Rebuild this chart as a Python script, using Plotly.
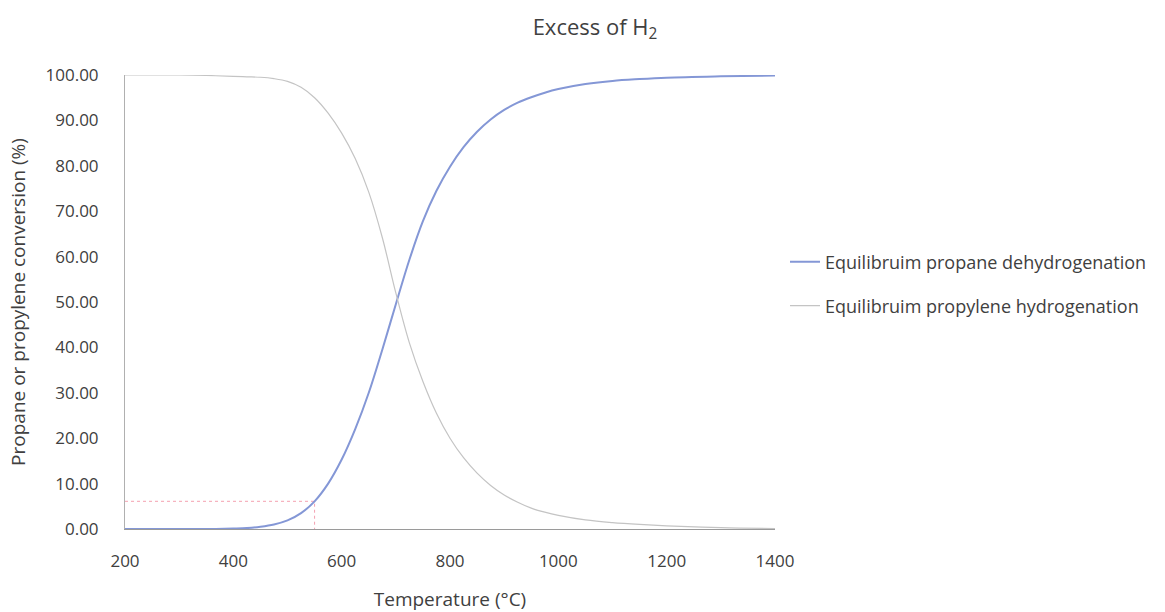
import plotly.graph_objects as go

# Equilibrium conversion vs temperature (°C), excess H2
temp_dehydro = [200, 250, 300, 350, 400, 425, 450, 475, 500, 525, 550, 575, 600, 625,
                650, 675, 700, 725, 750, 775, 800, 825, 850, 875, 900, 925, 950, 975,
                1000, 1050, 1100, 1150, 1200, 1300, 1400]
conv_dehydro = [0.0, 0.0, 0.0, 0.0, 0.1, 0.2, 0.5, 1.0, 1.9, 3.5, 6.1, 10.0, 15.3, 22.0,
                30.0, 39.5, 49.5, 59.3, 67.8, 74.5, 79.8, 84.1, 87.5, 90.2, 92.3, 93.9, 95.1, 96.1,
                96.9, 98.0, 98.7, 99.1, 99.4, 99.7, 99.9]

temp_hydro = [200, 300, 350, 400, 425, 450, 475, 500, 525, 550, 575, 600, 625, 650, 675,
              700, 725, 750, 775, 800, 825, 850, 875, 900, 925, 950, 975, 1000, 1050,
              1100, 1150, 1200, 1300, 1400]
conv_hydro = [100.0, 100.0, 99.9, 99.7, 99.6, 99.5, 99.2, 98.6, 97.3, 95.0, 91.6, 87.2, 81.6, 74.2, 64.2,
              52.0, 41.0, 32.5, 25.5, 20.0, 15.7, 12.3, 9.6, 7.5, 5.9, 4.6, 3.7, 3.0, 2.0,
              1.4, 1.0, 0.7, 0.3, 0.1]

# Guide marking the 550 °C reading
guide_temp = [200, 550, 550]
guide_conv = [6.1, 6.1, 0.0]

y_ticks = [0, 10, 20, 30, 40, 50, 60, 70, 80, 90, 100]
x_ticks = [200, 400, 600, 800, 1000, 1200, 1400]

FONT = "Open Sans"
TXT = "#404040"

fig = go.Figure()

fig.add_trace(go.Scatter(
    x=guide_temp, y=guide_conv, mode="lines",
    line=dict(color="#f4a0b0", width=1, dash="dot"),
    showlegend=False, hoverinfo="skip",
))

fig.add_trace(go.Scatter(
    x=temp_dehydro, y=conv_dehydro, mode="lines",
    name="Equilibruim propane dehydrogenation",
    line=dict(color="#8497d6", width=2, shape="spline", smoothing=1.0),
    legend="legend",
))

fig.add_trace(go.Scatter(
    x=temp_hydro, y=conv_hydro, mode="lines",
    name="Equilibruim propylene hydrogenation",
    line=dict(color="#c4c4c4", width=1.2, shape="spline", smoothing=1.0),
    legend="legend2",
))

legend_common = dict(
    xanchor="left", yanchor="middle",
    font=dict(family=FONT, size=18, color=TXT),
    bgcolor="rgba(0,0,0,0)", itemwidth=30,
)

fig.update_layout(
    width=1165, height=612,
    margin=dict(l=125, r=390, t=75, b=83),
    paper_bgcolor="white", plot_bgcolor="white",
    font=dict(family=FONT, size=17, color=TXT),
    title=dict(
        text="Excess of H<sub>2</sub>",
        x=595 / 1165, xanchor="center",
        y=1 - 27 / 612, yanchor="middle",
        font=dict(family=FONT, size=22, color=TXT),
    ),
    legend=dict(x=1.0154, y=(529 - 262) / 454, **legend_common),
    legend2=dict(x=1.0154, y=(529 - 306) / 454, **legend_common),
    xaxis=dict(
        range=[200, 1400], tickvals=x_ticks,
        showgrid=False, zeroline=False, automargin=False,
        showline=True, linecolor="#9a9a9a", linewidth=1,
        ticks="", ticklabelstandoff=17,
        tickfont=dict(family=FONT, size=17, color=TXT),
        title=dict(text="Temperature (°C)", standoff=21,
                   font=dict(family=FONT, size=19, color=TXT)),
    ),
    yaxis=dict(
        range=[0, 100], tickvals=y_ticks,
        tickformat=".2f",
        showgrid=False, zeroline=False,
        showline=True, linecolor="#b0b0b0", linewidth=1,
        ticks="", ticklabelstandoff=22,
        tickfont=dict(family=FONT, size=17, color=TXT),
        title=dict(text="Propane or propylene conversion (%)", standoff=14,
                   font=dict(family=FONT, size=19, color=TXT)),
    ),
)

fig.write_html("out.html")
